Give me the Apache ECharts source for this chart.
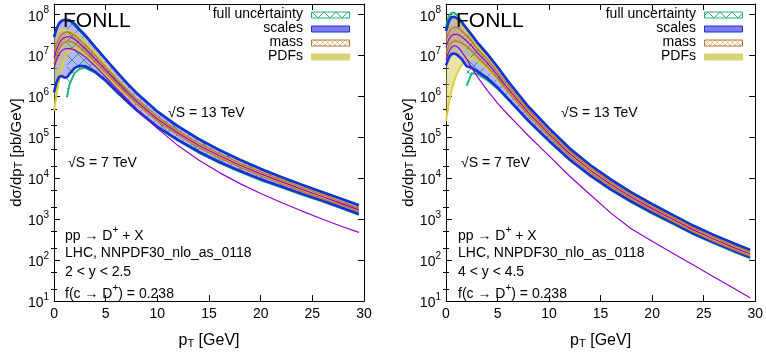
<!DOCTYPE html>
<html>
<head>
<meta charset="utf-8">
<script src="https://cdn.jsdelivr.net/npm/echarts@6/dist/echarts.min.js"></script>
<style>
html, body { margin: 0; padding: 0; background: #fff; }
#main { width: 766px; height: 354px; }
</style>
</head>
<body>
<div id="main"></div>
<script>
var FONT = '"Liberation Sans", Arial, Helvetica, sans-serif';

var pT = [0, 0.25, 0.5, 0.75, 1, 1.25, 1.5, 2, 2.5, 3, 4, 5, 6, 7, 8, 10, 12, 14, 16, 18, 20, 22, 24, 26, 28, 29.5];

// log10 of dsigma/dpT [pb/GeV], 2 < y < 2.5
var y2Central  = [6.95, 7.15, 7.3, 7.39, 7.44, 7.46, 7.46, 7.4, 7.29, 7.18, 6.92, 6.65, 6.38, 6.12, 5.88, 5.45, 5.11, 4.81, 4.55, 4.32, 4.11, 3.92, 3.73, 3.55, 3.37, 3.23];
var y2Central7 = [6.7, 6.9, 7.04, 7.12, 7.16, 7.17, 7.17, 7.14, 7.06, 6.97, 6.74, 6.48, 6.21, 5.95, 5.69, 5.22, 4.8, 4.45, 4.14, 3.87, 3.63, 3.41, 3.2, 3.0, 2.81, 2.68];
var y2ScaleHi  = [7.45, 7.66, 7.79, 7.85, 7.87, 7.87, 7.86, 7.77, 7.63, 7.5, 7.2, 6.91, 6.62, 6.34, 6.08, 5.63, 5.27, 4.96, 4.69, 4.45, 4.23, 4.03, 3.84, 3.66, 3.48, 3.34];
var y2ScaleLo  = [6.1, 6.35, 6.48, 6.5, 6.46, 6.47, 6.55, 6.7, 6.75, 6.74, 6.6, 6.39, 6.14, 5.9, 5.67, 5.26, 4.94, 4.65, 4.4, 4.18, 3.98, 3.8, 3.62, 3.45, 3.27, 3.13];
var y2MassHi   = [7.1, 7.29, 7.43, 7.52, 7.56, 7.58, 7.57, 7.5, 7.38, 7.27, 7.0, 6.72, 6.45, 6.18, 5.94, 5.51, 5.16, 4.86, 4.6, 4.37, 4.16, 3.97, 3.78, 3.6, 3.41, 3.27];
var y2MassLo   = [6.8, 7.01, 7.17, 7.26, 7.32, 7.34, 7.35, 7.3, 7.2, 7.09, 6.84, 6.58, 6.32, 6.06, 5.82, 5.4, 5.06, 4.76, 4.5, 4.27, 4.06, 3.87, 3.68, 3.5, 3.33, 3.19];
var y2PdfHi    = [7.48, 7.56, 7.6, 7.62, 7.62, 7.61, 7.59, 7.53, 7.44, 7.35, 7.07, 6.77, 6.47, 6.19, 5.93, 5.49, 5.14, 4.84, 4.58, 4.35, 4.14, 3.95, 3.76, 3.58, 3.4, 3.26];
var y2PdfLo    = [5.65, 6.05, 6.42, 6.7, 6.9, 7.05, 7.12, 7.17, 7.1, 7.0, 6.75, 6.51, 6.26, 6.03, 5.82, 5.41, 5.08, 4.78, 4.52, 4.29, 4.08, 3.89, 3.7, 3.52, 3.34, 3.2];
var y2FullHi   = [7.46, 7.67, 7.8, 7.86, 7.88, 7.88, 7.87, 7.78, 7.64, 7.51, 7.21, 6.92, 6.63, 6.35, 6.09, 5.64, 5.28, 4.97, 4.7, 4.46, 4.24, 4.04, 3.85, 3.67, 3.49, 3.35];
var y2FullLo   = [null, null, null, null, null, 5.98, 6.3, 6.58, 6.68, 6.7, 6.58, 6.37, 6.12, 5.88, 5.65, 5.24, 4.92, 4.63, 4.38, 4.16, 3.95, 3.78, 3.6, 3.43, 3.25, 3.11];

// log10 of dsigma/dpT [pb/GeV], 4 < y < 4.5
var y4Central  = [7.2, 7.38, 7.48, 7.52, 7.52, 7.5, 7.46, 7.36, 7.23, 7.08, 6.82, 6.52, 6.2, 5.9, 5.6, 5.08, 4.6, 4.2, 3.85, 3.54, 3.26, 3.0, 2.74, 2.51, 2.3, 2.15];
var y4Central7 = [6.9, 7.08, 7.19, 7.24, 7.23, 7.18, 7.1, 6.92, 6.7, 6.5, 6.15, 5.84, 5.56, 5.3, 5.04, 4.55, 4.05, 3.6, 3.15, 2.76, 2.46, 2.17, 1.88, 1.59, 1.3, 1.08];
var y4ScaleHi  = [7.6, 7.82, 7.94, 7.95, 7.92, 7.88, 7.82, 7.66, 7.5, 7.33, 7.04, 6.72, 6.38, 6.06, 5.75, 5.22, 4.73, 4.32, 3.97, 3.65, 3.37, 3.1, 2.84, 2.61, 2.4, 2.25];
var y4ScaleLo  = [6.76, 6.93, 7.03, 7.05, 7.03, 6.98, 6.92, 6.74, 6.7, 6.62, 6.45, 6.22, 5.95, 5.68, 5.41, 4.92, 4.46, 4.07, 3.73, 3.43, 3.16, 2.91, 2.65, 2.43, 2.22, 2.07];
var y4MassHi   = [7.37, 7.55, 7.65, 7.69, 7.69, 7.66, 7.61, 7.49, 7.35, 7.18, 6.91, 6.6, 6.28, 5.97, 5.67, 5.14, 4.66, 4.26, 3.9, 3.59, 3.31, 3.05, 2.79, 2.56, 2.35, 2.2];
var y4MassLo   = [7.03, 7.21, 7.31, 7.35, 7.35, 7.34, 7.31, 7.23, 7.11, 6.98, 6.73, 6.44, 6.12, 5.83, 5.53, 5.02, 4.54, 4.14, 3.8, 3.49, 3.21, 2.95, 2.69, 2.46, 2.25, 2.1];
var y4PdfHi    = [7.62, 7.85, 7.93, 7.94, 7.9, 7.84, 7.77, 7.6, 7.42, 7.25, 6.93, 6.6, 6.26, 5.95, 5.65, 5.12, 4.64, 4.23, 3.88, 3.57, 3.29, 3.03, 2.77, 2.54, 2.33, 2.18];
var y4PdfLo    = [5.4, 5.8, 6.1, 6.35, 6.52, 6.66, 6.76, 6.9, 6.94, 6.88, 6.68, 6.42, 6.13, 5.85, 5.55, 5.04, 4.56, 4.17, 3.82, 3.51, 3.23, 2.97, 2.71, 2.48, 2.27, 2.12];
var y4FullHi   = [7.7, 7.95, 8.04, 8.05, 8.0, 7.93, 7.85, 7.67, 7.51, 7.34, 7.05, 6.73, 6.39, 6.07, 5.76, 5.23, 4.74, 4.33, 3.98, 3.66, 3.38, 3.11, 2.85, 2.62, 2.41, 2.26];
var y4FullLo   = [null, null, null, null, null, null, null, 6.26, 6.57, 6.55, 6.4, 6.19, 5.93, 5.66, 5.39, 4.9, 4.44, 4.05, 3.71, 3.41, 3.14, 2.89, 2.63, 2.41, 2.2, 2.05];

var decades = [10, 100, 1e3, 1e4, 1e5, 1e6, 1e7, 1e8];
var minorTicks = [20, 50, 200, 500, 2e3, 5e3, 2e4, 5e4, 2e5, 5e5, 2e6, 5e6, 2e7, 5e7];
var legendNames = ['full uncertainty', 'scales', 'mass', 'PDFs'];
var rapidityText = ['2 < y < 2.5', '4 < y < 4.5'];

var yMin = 10, yMax = 1.82e8;

function pow10(v) { return Math.pow(10, v); }

// hatch patterns like gnuplot's fill patterns
function hatch(size, color, lw) {
  var c = document.createElement('canvas');
  c.width = c.height = size;
  var g = c.getContext('2d');
  g.strokeStyle = color;
  g.lineWidth = lw;
  g.beginPath();
  g.moveTo(-1, -1); g.lineTo(size + 1, size + 1);
  g.moveTo(size + 1, -1); g.lineTo(-1, size + 1);
  g.stroke();
  return { image: c, repeat: 'repeat' };
}
var fullPattern = hatch(12, 'rgba(20,150,110,0.85)', 1);
var massPattern = hatch(5, 'rgba(205,120,40,0.55)', 0.8);

var COL = {
  scaleFill: 'rgba(80,80,240,0.42)',
  scaleLine: '#1530d8',
  pdfFill: 'rgba(200,195,60,0.45)',
  pdfLine: '#dbd040',
  massLine: '#c47a2c',
  fullLine: '#22b573',
  central: '#9400d3'
};

function band(g, lo, hi, fill, z) {
  return {
    type: 'custom', xAxisIndex: g * 2, yAxisIndex: g * 4, z: z, clip: true, silent: true,
    data: pT.map(function (x, i) { return [x, pow10(hi[i])]; }),
    encode: { x: 0, y: 1 },
    renderItem: function (params, api) {
      if (params.dataIndex !== 0) return null;
      var top = [], bottom = [];
      pT.forEach(function (x, i) {
        if (lo[i] == null || hi[i] == null) return;
        top.push(api.coord([x, pow10(hi[i])]));
        bottom.unshift(api.coord([x, pow10(lo[i])]));
      });
      return { type: 'polygon', shape: { points: top.concat(bottom) }, style: { fill: fill } };
    }
  };
}

function curve(g, vals, color, width, z) {
  var data = [];
  pT.forEach(function (x, i) { if (vals[i] != null) data.push([x, pow10(vals[i])]); });
  return {
    type: 'line', xAxisIndex: g * 2, yAxisIndex: g * 4, z: z, data: data,
    symbol: 'none', showSymbol: false, smooth: false, clip: true, silent: true,
    lineStyle: { color: color, width: width }
  };
}

function panel(g, d) {
  return [
    band(g, d.scaleLo, d.scaleHi, COL.scaleFill, 1),
    band(g, d.pdfLo, d.pdfHi, COL.pdfFill, 2),
    band(g, d.massLo, d.massHi, massPattern, 3),
    band(g, d.fullLo, d.fullHi, fullPattern, 4),
    curve(g, d.pdfLo, COL.pdfLine, 2, 5),
    curve(g, d.pdfHi, COL.pdfLine, 2, 5),
    curve(g, d.fullLo, COL.fullLine, 2, 6),
    curve(g, d.fullHi, COL.fullLine, 2, 6),
    curve(g, d.scaleLo, COL.scaleLine, 2.6, 7),
    curve(g, d.scaleHi, COL.scaleLine, 2.6, 7),
    curve(g, d.massLo, COL.massLine, 1.5, 8),
    curve(g, d.massHi, COL.massLine, 1.5, 8),
    curve(g, d.central, COL.central, 1.2, 9),
    curve(g, d.central7, COL.central, 1.2, 9)
  ];
}

var black = { color: '#000', width: 1 };
var titleRich = {
  sub: { fontSize: 11, fontFamily: FONT, color: '#000', lineHeight: 11, padding: [12, 0, 0, 0], verticalAlign: 'bottom' }
};

function xAxes(g) {
  var base = {
    type: 'value', gridIndex: g, min: 0, max: 30, interval: 5,
    axisLine: { onZero: false, lineStyle: black },
    axisTick: { inside: true, length: 6, lineStyle: black },
    splitLine: { show: false }
  };
  return [
    Object.assign({}, base, {
      position: 'bottom',
      axisLabel: { color: '#000', fontSize: 14, fontFamily: FONT, margin: 6 },
      name: 'p{sub|T} [GeV]', nameLocation: 'middle', nameGap: 20,
      nameTextStyle: { color: '#000', fontSize: 16, fontFamily: FONT, rich: titleRich }
    }),
    Object.assign({}, base, { position: 'top', axisLabel: { show: false } })
  ];
}

function yAxes(g) {
  var base = { type: 'log', gridIndex: g, min: yMin, max: yMax, splitLine: { show: false } };
  function major(side, labels) {
    return Object.assign({}, base, {
      position: side,
      axisLine: { show: true, onZero: false, lineStyle: black },
      axisTick: { inside: true, length: 6, customValues: decades, lineStyle: black },
      axisLabel: {
        show: labels, customValues: decades, margin: 5, color: '#000',
        formatter: function (v) {
          var e = Math.round(Math.log10(v));
          return '{b|10}{s|' + e + '}';
        },
        rich: {
          b: { fontSize: 14, fontFamily: FONT, color: '#000', lineHeight: 18, verticalAlign: 'bottom' },
          s: { fontSize: 10, fontFamily: FONT, color: '#000', lineHeight: 8, verticalAlign: 'top' }
        }
      },
      name: labels ? 'd\u03c3/dp{sub|T} [pb/GeV]' : '',
      nameLocation: 'middle', nameRotate: 90, nameGap: 30,
      nameTextStyle: { color: '#000', fontSize: 15, fontFamily: FONT, rich: titleRich }
    });
  }
  function minor(side) {
    return Object.assign({}, base, {
      position: side,
      axisLine: { show: false },
      axisTick: { inside: true, length: 3, customValues: minorTicks, lineStyle: black },
      axisLabel: { show: false }
    });
  }
  return [major('left', true), minor('left'), major('right', false), minor('right')];
}

var supRich = {
  n: { fontSize: 14, fontFamily: FONT, color: '#000', lineHeight: 18, verticalAlign: 'bottom' },
  sup: { fontSize: 10, fontFamily: FONT, color: '#000', lineHeight: 8, verticalAlign: 'top' }
};
function txt(x, y, text, size) {
  return {
    type: 'text', x: x, y: y, silent: true, z: 20,
    style: { text: text, fontSize: size || 14, fontFamily: FONT, fill: '#000', verticalAlign: 'middle', rich: supRich }
  };
}

function annotations(dx, g) {
  return [
    txt(63 + dx, 21, 'FONLL', 21),
    txt(168 + dx, 113, '\u221aS = 13 TeV'),
    txt(68 + dx, 163, '\u221aS = 7 TeV'),
    txt(65 + dx, 234, '{n|pp \u2192 D}{sup|+}{n| + X}'),
    txt(65 + dx, 253, 'LHC, NNPDF30_nlo_as_0118'),
    txt(65 + dx, 272, rapidityText[g]),
    txt(65 + dx, 292, '{n|f(c \u2192 D}{sup|+}{n|) = 0.238}')
  ];
}

function legendBlock(dx) {
  var swatch = [
    { fill: fullPattern, stroke: '#27b074' },
    { fill: '#7d7df2', stroke: '#2233cc' },
    { fill: massPattern, stroke: '#b9762e' },
    { fill: '#d5d27c', stroke: '#e0d65a' }
  ];
  var out = [];
  legendNames.forEach(function (name, i) {
    var cy = 14 + i * 14;
    out.push({
      type: 'text', x: 303 + dx, y: cy, silent: true, z: 20,
      style: { text: name, fontSize: 14, fontFamily: FONT, fill: '#000', align: 'right', verticalAlign: 'middle' }
    });
    out.push({
      type: 'rect', silent: true, z: 20,
      shape: { x: 311.5 + dx, y: cy - 2, width: 38, height: 6 },
      style: { fill: swatch[i].fill, stroke: swatch[i].stroke, lineWidth: 1 }
    });
  });
  return out;
}

var panelA = { central: y2Central, central7: y2Central7, scaleLo: y2ScaleLo, scaleHi: y2ScaleHi,
  massLo: y2MassLo, massHi: y2MassHi, pdfLo: y2PdfLo, pdfHi: y2PdfHi, fullLo: y2FullLo, fullHi: y2FullHi };
var panelB = { central: y4Central, central7: y4Central7, scaleLo: y4ScaleLo, scaleHi: y4ScaleHi,
  massLo: y4MassLo, massHi: y4MassHi, pdfLo: y4PdfLo, pdfHi: y4PdfHi, fullLo: y4FullLo, fullHi: y4FullHi };

var chart = echarts.init(document.getElementById('main'), null, { renderer: 'canvas' });
chart.setOption({
  animation: false,
  backgroundColor: '#fff',
  grid: [
    { left: 53, top: 4, width: 311, height: 306 },
    { left: 446, top: 4, width: 312, height: 306 }
  ],
  xAxis: xAxes(0).concat(xAxes(1)),
  yAxis: yAxes(0).concat(yAxes(1)),
  series: panel(0, panelA).concat(panel(1, panelB)),
  graphic: annotations(0, 0).concat(annotations(393, 1), legendBlock(0), legendBlock(393))
});
</script>
</body>
</html>
